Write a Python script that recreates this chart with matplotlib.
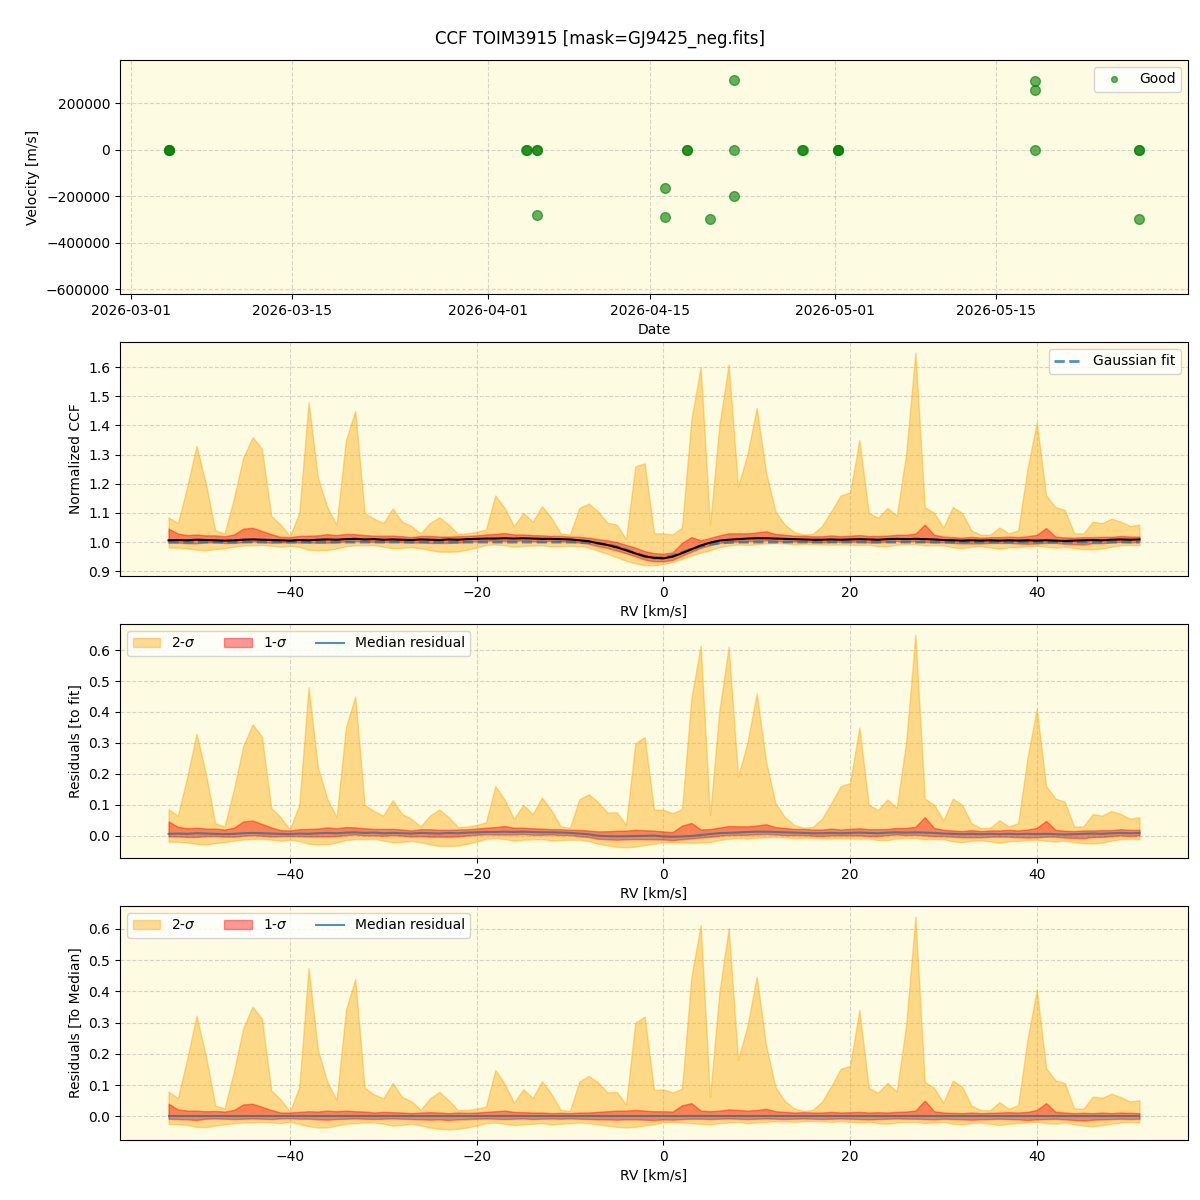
import numpy as np
import pandas as pd
import matplotlib
matplotlib.use("Agg")
import matplotlib.pyplot as plt
from matplotlib.patches import Patch
from matplotlib.lines import Line2D
from matplotlib.ticker import MultipleLocator

# --- observations (top panel) ---
obs_dates = ["2026-03-04 06:40", "2026-03-04 07:10", "2026-03-04 07:40",
             "2026-04-04 07:00", "2026-04-04 07:40",
             "2026-04-05 05:00", "2026-04-05 05:30", "2026-04-05 06:00",
             "2026-04-16 07:00", "2026-04-16 07:20",
             "2026-04-18 05:00", "2026-04-18 05:30",
             "2026-04-20 05:00",
             "2026-04-22 07:00", "2026-04-22 07:20", "2026-04-22 07:40",
             "2026-04-28 05:00", "2026-04-28 05:30",
             "2026-05-01 06:40", "2026-05-01 07:10", "2026-05-01 07:40",
             "2026-05-18 09:00", "2026-05-18 09:20", "2026-05-18 09:40",
             "2026-05-27 09:00", "2026-05-27 09:30", "2026-05-27 10:00"]
obs_vel = [0, 500, -300,
           0, 300,
           -500, 200, -280000,
           -165000, -290000,
           0, 400,
           -298000,
           298000, 0, -200000,
           0, 300,
           0, 400, -200,
           294000, 256000, 0,
           0, 300, -296000]

# --- CCF statistics, RV grid in km/s ---
rv = np.arange(-53, 52)

ccf_med = [1.006, 1.007, 1.006, 1.008, 1.007, 1.006, 1.005, 1.006, 1.008, 1.009,
           1.008, 1.007, 1.006, 1.005, 1.007, 1.006, 1.008, 1.009, 1.008, 1.010,
           1.011, 1.009, 1.010, 1.008, 1.009, 1.008, 1.007, 1.009, 1.008, 1.007,
           1.009, 1.008, 1.010, 1.011, 1.012, 1.012, 1.013, 1.012, 1.013, 1.012,
           1.011, 1.011, 1.010, 1.009, 1.006, 1.003, 0.996, 0.990, 0.982, 0.972,
           0.961, 0.951, 0.946, 0.944, 0.950, 0.962, 0.975, 0.988, 0.998, 1.005,
           1.008, 1.010, 1.012, 1.013, 1.013, 1.012, 1.011, 1.010, 1.009, 1.008,
           1.008, 1.009, 1.008, 1.009, 1.010, 1.009, 1.008, 1.010, 1.011, 1.010,
           1.011, 1.010, 1.009, 1.007, 1.006, 1.005, 1.006, 1.005, 1.006, 1.005,
           1.006, 1.005, 1.006, 1.005, 1.006, 1.005, 1.004, 1.005, 1.006, 1.007,
           1.006, 1.008, 1.009, 1.008, 1.009]

sig2_hi = [1.085, 1.065, 1.19, 1.33, 1.20, 1.04, 1.03, 1.15, 1.29, 1.36,
           1.32, 1.09, 1.06, 1.02, 1.10, 1.48, 1.22, 1.12, 1.06, 1.35,
           1.45, 1.10, 1.08, 1.065, 1.115, 1.07, 1.055, 1.03, 1.065, 1.085,
           1.06, 1.028, 1.03, 1.035, 1.043, 1.16, 1.117, 1.055, 1.10, 1.07,
           1.123, 1.083, 1.03, 1.026, 1.117, 1.132, 1.105, 1.066, 1.06, 1.01,
           1.26, 1.27, 1.03, 1.03, 1.026, 1.05, 1.42, 1.60, 1.06, 1.40,
           1.61, 1.19, 1.30, 1.46, 1.24, 1.106, 1.06, 1.035, 1.026, 1.028,
           1.055, 1.106, 1.16, 1.17, 1.35, 1.10, 1.083, 1.117, 1.09, 1.30,
           1.65, 1.12, 1.10, 1.05, 1.12, 1.10, 1.04, 1.025, 1.025, 1.05,
           1.03, 1.04, 1.25, 1.41, 1.16, 1.12, 1.11, 1.03, 1.03, 1.07,
           1.065, 1.08, 1.07, 1.055, 1.06]

# offsets of the other bands from the median
sig1_hi_off = [0.040, 0.022, 0.018, 0.018, 0.016, 0.017, 0.015, 0.020, 0.038, 0.040,
               0.030, 0.020, 0.012, 0.012, 0.014, 0.016, 0.015, 0.018, 0.016, 0.018,
               0.016, 0.015, 0.012, 0.014, 0.013, 0.012, 0.010, 0.012, 0.013, 0.012,
               0.010, 0.012, 0.011, 0.012, 0.014, 0.016, 0.018, 0.014, 0.013, 0.012,
               0.012, 0.010, 0.011, 0.010, 0.012, 0.012, 0.014, 0.016, 0.018, 0.018,
               0.020, 0.018, 0.016, 0.016, 0.015, 0.035, 0.042, 0.018, 0.016, 0.018,
               0.022, 0.020, 0.018, 0.020, 0.024, 0.016, 0.014, 0.012, 0.013, 0.012,
               0.012, 0.014, 0.012, 0.013, 0.014, 0.012, 0.013, 0.012, 0.014, 0.015,
               0.018, 0.050, 0.016, 0.012, 0.011, 0.010, 0.012, 0.010, 0.011, 0.012,
               0.013, 0.012, 0.014, 0.020, 0.042, 0.014, 0.012, 0.010, 0.011, 0.010,
               0.012, 0.010, 0.012, 0.011, 0.010]

sig1_lo_off = [0.008, 0.009, 0.010, 0.012, 0.008, 0.007, 0.008, 0.009, 0.008, 0.007,
               0.008, 0.009, 0.007, 0.006, 0.008, 0.008, 0.010, 0.011, 0.009, 0.008,
               0.007, 0.008, 0.009, 0.008, 0.007, 0.008, 0.009, 0.010, 0.011, 0.010,
               0.012, 0.010, 0.009, 0.008, 0.007, 0.008, 0.009, 0.008, 0.007, 0.009,
               0.008, 0.007, 0.008, 0.007, 0.008, 0.009, 0.010, 0.010, 0.011, 0.010,
               0.010, 0.011, 0.012, 0.010, 0.011, 0.009, 0.008, 0.008, 0.009, 0.008,
               0.007, 0.008, 0.009, 0.008, 0.007, 0.008, 0.009, 0.008, 0.007, 0.008,
               0.009, 0.008, 0.007, 0.008, 0.009, 0.010, 0.009, 0.008, 0.007, 0.008,
               0.008, 0.009, 0.010, 0.008, 0.009, 0.010, 0.011, 0.010, 0.009, 0.008,
               0.009, 0.010, 0.012, 0.010, 0.009, 0.008, 0.010, 0.012, 0.014, 0.011,
               0.010, 0.009, 0.008, 0.009, 0.008]

sig2_lo_off = [0.025, 0.026, 0.028, 0.034, 0.035, 0.030, 0.026, 0.022, 0.020, 0.020,
               0.018, 0.020, 0.022, 0.018, 0.024, 0.032, 0.036, 0.036, 0.030, 0.024,
               0.022, 0.020, 0.020, 0.024, 0.030, 0.028, 0.024, 0.030, 0.036, 0.040,
               0.042, 0.040, 0.036, 0.030, 0.022, 0.020, 0.024, 0.028, 0.026, 0.024,
               0.022, 0.026, 0.024, 0.022, 0.020, 0.022, 0.026, 0.030, 0.034, 0.036,
               0.034, 0.030, 0.026, 0.020, 0.018, 0.020, 0.022, 0.024, 0.026, 0.022,
               0.020, 0.018, 0.022, 0.020, 0.018, 0.016, 0.016, 0.018, 0.016, 0.015,
               0.016, 0.018, 0.016, 0.018, 0.020, 0.018, 0.022, 0.024, 0.020, 0.018,
               0.018, 0.022, 0.020, 0.018, 0.024, 0.026, 0.022, 0.020, 0.024, 0.028,
               0.024, 0.022, 0.020, 0.018, 0.022, 0.024, 0.020, 0.026, 0.030, 0.032,
               0.028, 0.024, 0.020, 0.018, 0.020]

# gaussian fit parameters
fit_depth = 0.055
fit_center = -0.6
fit_sigma = 2.8

bg = "#fdfbe1"

med = np.array(ccf_med)
hi2 = np.array(sig2_hi)
hi1 = med + np.array(sig1_hi_off)
lo1 = med - np.array(sig1_lo_off)
lo2 = med - np.array(sig2_lo_off)
fit = 1.0 - fit_depth * np.exp(-0.5 * ((rv - fit_center) / fit_sigma) ** 2)


def bandas(ax, ref):
    ax.fill_between(rv, lo2 - ref, hi2 - ref, color="orange", alpha=0.4)
    ax.fill_between(rv, lo1 - ref, hi1 - ref, color="red", alpha=0.4)


def estilo(ax):
    ax.set_facecolor(bg)
    ax.grid(True, linestyle="--", alpha=0.5)
    ax.set_axisbelow(True)


fig, axes = plt.subplots(4, 1, figsize=(12, 12))
fig.subplots_adjust(left=0.1, right=0.99, top=0.95, bottom=0.05, hspace=0.205)
fig.suptitle("CCF TOIM3915 [mask=GJ9425_neg.fits]", fontsize=12, y=0.975)

# top: velocities
ax = axes[0]
estilo(ax)
ax.plot(pd.to_datetime(obs_dates), obs_vel, "o", color="green", alpha=0.6,
        ms=7, label="Good")
ax.set_ylim(-620000, 385000)
ax.set_ylabel("Velocity [m/s]")
ax.set_xlabel("Date")
ax.legend(loc="upper right", markerscale=0.6)

# CCF
ax = axes[1]
estilo(ax)
bandas(ax, 0.0)
ax.plot(rv, fit, "--", color="C0", lw=2, alpha=0.8, label="Gaussian fit")
ax.plot(rv, med, color="black", lw=1.5)
ax.yaxis.set_major_locator(MultipleLocator(0.1))
ax.set_ylabel("Normalized CCF")
ax.set_xlabel("RV [km/s]")
ax.legend(loc="upper right")

handles = [Patch(facecolor="orange", edgecolor="orange", alpha=0.4, label="2-$\\sigma$"),
           Patch(facecolor="red", edgecolor="red", alpha=0.4, label="1-$\\sigma$"),
           Line2D([], [], color="C0", alpha=0.8, lw=1.5, label="Median residual")]

# residuals to fit
ax = axes[2]
estilo(ax)
bandas(ax, fit)
ax.plot(rv, med - fit, color="C0", lw=1.5, alpha=0.8)
ax.set_ylabel("Residuals [to fit]")
ax.set_xlabel("RV [km/s]")
ax.legend(handles=handles, loc="upper left", ncol=3)

# residuals to median
ax = axes[3]
estilo(ax)
bandas(ax, med)
ax.plot(rv, med - med, color="C0", lw=1.5, alpha=0.8)
ax.set_ylabel("Residuals [To Median]")
ax.set_xlabel("RV [km/s]")
ax.legend(handles=handles, loc="upper left", ncol=3)

fig.savefig("out.png", dpi=100)
